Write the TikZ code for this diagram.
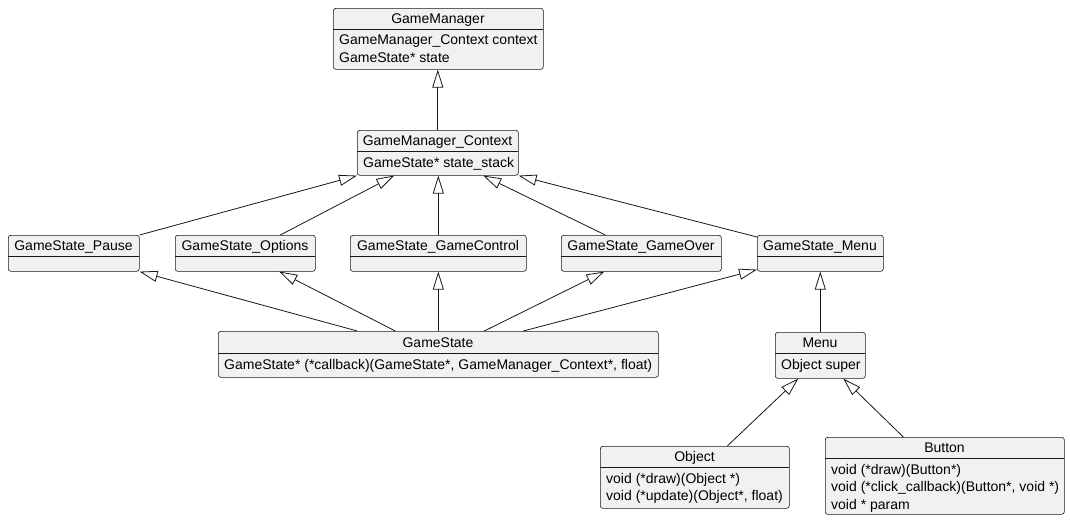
\documentclass[tikz,border=0pt]{standalone}
\usepackage{fontspec}
\setmainfont{Liberation Sans}
\usetikzlibrary{arrows.meta}
\definecolor{boxfill}{HTML}{F1F1F1}
\definecolor{boxline}{HTML}{181818}
\tikzset{
  clsbox/.style={draw=boxline, fill=boxfill, line width=0.6pt, rounded corners=2.5pt, inner sep=0pt},
  sepline/.style={draw=boxline, line width=0.6pt},
  clstitle/.style={font=\fontsize{14}{17}\selectfont, inner sep=0pt, anchor=base},
  clsattrs/.style={font=\fontsize{14}{17.5}\selectfont, inner sep=0pt, align=left, anchor=north west},
  ext/.style={draw=boxline, line width=0.8pt, -{Triangle[open, length=18pt, width=11pt]}},
}
% name, x1, y1, x2, y2, separator y, title, attributes
\newcommand\umlclass[8]{%
  \node[clsbox, minimum width={#4-#2}, minimum height={#5-#3}, anchor=north west] (#1) at (#2,#3) {};
  \draw[sepline] (#2,#6) -- (#4,#6);
  \node[clstitle] (#1-t) at ({(#2+#4)/2},{(#3+#6)/2+5}) {#7};
  \node[clsattrs] (#1-a) at ({#2+6},{#6+6}) {#8};
}
\begin{document}
\begin{tikzpicture}[x=1pt,y=-1pt]
\useasboundingbox[fill=white] (0,0) rectangle (1070,522);

\umlclass{gm}{333}{8}{543}{69}{29}{GameManager}{GameManager\_Context context\\GameState* state}
\umlclass{ctx}{357}{130}{518}{175}{151}{GameManager\_Context}{GameState* state\_stack}
\umlclass{pause}{8}{235}{139}{271}{256}{GameState\_Pause}{}
\umlclass{options}{175}{235}{315}{271}{256}{GameState\_Options}{}
\umlclass{gc}{350}{235}{526}{271}{256}{GameState\_GameControl}{}
\umlclass{go}{561}{235}{721}{271}{256}{GameState\_GameOver}{}
\umlclass{gsmenu}{757}{235}{883}{271}{256}{GameState\_Menu}{}
\umlclass{gs}{218}{331}{658}{377}{353}{GameState}{GameState* (*callback)(GameState*, GameManager\_Context*, float)}
\umlclass{menu}{775}{332}{865}{378}{353}{Menu}{Object super}
\umlclass{obj}{600}{446}{789}{508}{467}{Object}{void (*draw)(Object *)\\void (*update)(Object*, float)}
\umlclass{btn}{825}{437}{1064}{514}{458}{Button}{void (*draw)(Button*)\\void (*click\_callback)(Button*, void *)\\void * param}

% GameManager_Context -> GameManager
\draw[ext] (ctx.north) -- (ctx.north |- gm.south);
% row 2 -> GameManager_Context
\draw[ext] (pause.north east) -- (ctx.south west);
\draw[ext] ([xshift=35pt]options.north) -- ([xshift=-43.5pt]ctx.south);
\draw[ext] (gc.north) -- (gc.north |- ctx.south);
\draw[ext] ([xshift=-36pt]go.north) -- ([xshift=45.5pt]ctx.south);
\draw[ext] ([yshift=-2pt]gsmenu.north west) -- (ctx.south east);
% GameState -> row 2
\draw[ext] ([xshift=-81pt]gs.north) -- (pause.south east);
\draw[ext] ([xshift=-43pt]gs.north) -- ([xshift=34pt]options.south);
\draw[ext] (gs.north) -- (gs.north |- gc.south);
\draw[ext] ([xshift=46pt]gs.north) -- ([xshift=-37pt]go.south);
\draw[ext] ([xshift=85pt]gs.north) -- ([yshift=2pt]gsmenu.south west);
% Menu -> GameState_Menu
\draw[ext] (menu.north) -- (menu.north |- gsmenu.south);
% Object, Button -> Menu
\draw[ext] ([xshift=32.5pt]obj.north) -- ([xshift=-22pt]menu.south);
\draw[ext] ([xshift=-41.5pt]btn.north) -- ([xshift=23pt]menu.south);
\end{tikzpicture}
\end{document}
